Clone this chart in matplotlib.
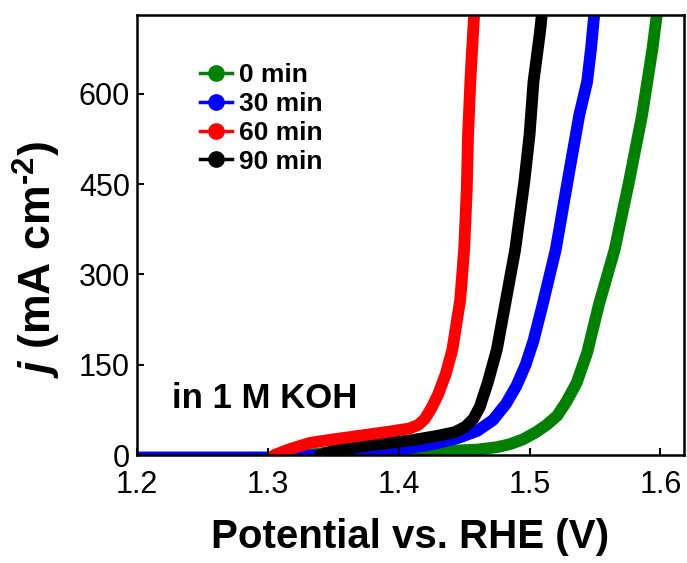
import matplotlib
matplotlib.use("Agg")
import matplotlib.pyplot as plt
from matplotlib.lines import Line2D

plt.rcParams['font.family'] = ['Liberation Sans', 'DejaVu Sans']
plt.rcParams['mathtext.fontset'] = 'custom'
plt.rcParams['mathtext.it'] = 'Liberation Sans:italic:bold'
plt.rcParams['mathtext.rm'] = 'Liberation Sans:bold'
plt.rcParams['mathtext.bf'] = 'Liberation Sans:bold'

# ---- data ----
labels = ['0 min', '30 min', '60 min', '90 min']
colors = ['#008000', '#0000ff', '#ff0000', '#000000']

v_0min = [1.330, 1.345, 1.360, 1.400, 1.440, 1.460, 1.475, 1.485, 1.495, 1.505,
          1.513, 1.521, 1.528, 1.536, 1.544, 1.553, 1.565, 1.576, 1.586, 1.594, 1.598]
j_0min = [0, 4, 6, 6, 7, 9, 13, 18, 26, 38, 50, 65, 88, 120, 170, 250, 341, 454,
          565, 676, 745]

v_30min = [1.200, 1.300, 1.345, 1.370, 1.400, 1.426, 1.445, 1.460, 1.472, 1.482,
           1.490, 1.497, 1.503, 1.510, 1.520, 1.529, 1.538, 1.544, 1.547, 1.550]
j_30min = [-4, -4, 0, 3, 8, 18, 28, 40, 58, 85, 115, 150, 190, 250, 341, 454,
           565, 620, 676, 745]

v_60min = [1.305, 1.317, 1.332, 1.350, 1.370, 1.390, 1.408, 1.415, 1.420, 1.425,
           1.430, 1.436, 1.441, 1.447, 1.450, 1.452, 1.453, 1.455, 1.458]
j_60min = [0, 10, 20, 26, 32, 38, 44, 50, 60, 78, 100, 135, 175, 258, 341, 440,
           532, 632, 745]

v_90min = [1.340, 1.350, 1.378, 1.411, 1.430, 1.443, 1.451, 1.457, 1.462, 1.468,
           1.475, 1.482, 1.489, 1.496, 1.500, 1.503, 1.508, 1.510]
j_90min = [0, 7, 16, 25, 32, 38, 47, 60, 80, 120, 175, 258, 341, 454, 532, 620,
           703, 745]

xticks = [1.2, 1.3, 1.4, 1.5, 1.6]
yticks = [0, 150, 300, 450, 600]

series_v = [v_0min, v_30min, v_60min, v_90min]
series_j = [j_0min, j_30min, j_60min, j_90min]
zorders = [1.2, 1.3, 1.5, 1.4]

fig = plt.figure(figsize=(6.87, 5.63), dpi=100)
ax = fig.add_axes([0.1994, 0.1918, 0.7962, 0.7816])

for v, j, c, z in zip(series_v, series_j, colors, zorders):
    ax.plot(v, j, color=c, lw=8.5, solid_capstyle='round', solid_joinstyle='round', zorder=z)

ax.set_xlim(1.2, 1.618)
ax.set_ylim(0, 731)
ax.set_xticks(xticks)
ax.set_xticklabels(['1.2', '1.3', '1.4', '1.5', '1.6'])
ax.set_yticks(yticks)
ax.tick_params(direction='in', length=5, width=1.5, labelsize=22,
               top=False, right=False)
ax.tick_params(axis='x', pad=11)
ax.tick_params(axis='y', pad=5)
for s in ax.spines.values():
    s.set_linewidth(1.8)

ax.set_xlabel('Potential vs. RHE (V)', fontsize=29, fontweight='bold', labelpad=13)
ax.set_ylabel(r'$j$ (mA cm$^{\text{-2}}$)', fontsize=32, fontweight='bold',
              va='center', ha='center')
ax.yaxis.set_label_coords(-0.182, 0.445)

ax.text(0.064, 0.107, 'in 1 M KOH', transform=ax.transAxes, fontsize=25,
        fontweight='bold', ha='left', va='baseline')

handles = [Line2D([], [], color=c, lw=2.5, marker='o', markersize=11) for c in colors]
ax.legend(handles, labels, loc='upper left', bbox_to_anchor=(0.115, 0.89),
          frameon=False, prop={'weight': 'bold', 'size': 19},
          handlelength=1.2, handletextpad=0.3, labelspacing=0.18,
          borderpad=0, borderaxespad=0)

fig.savefig('out.png', dpi=100)
